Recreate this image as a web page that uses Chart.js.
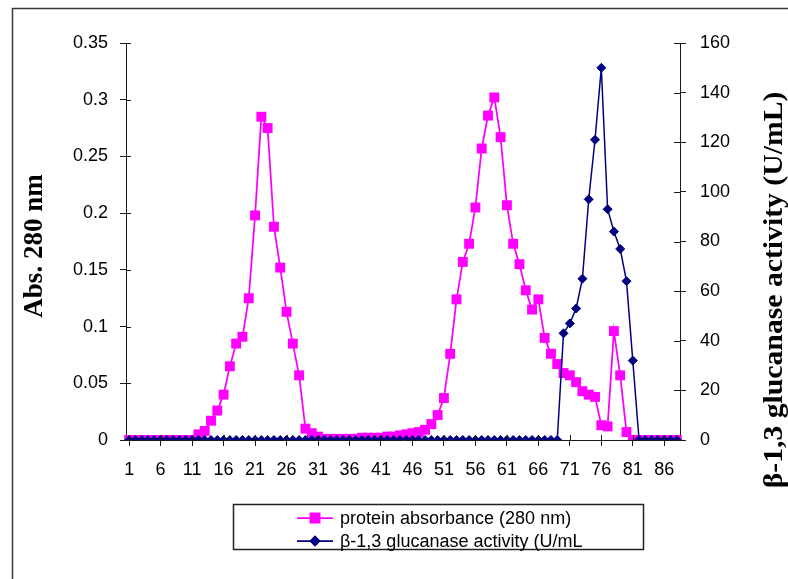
<!DOCTYPE html>
<html>
<head>
<meta charset="utf-8">
<title>Elution profile: protein and β-1,3 glucanase activity</title>
<script src="https://cdn.jsdelivr.net/npm/chart.js@4/dist/chart.umd.min.js"></script>
<style>
  html, body { margin: 0; padding: 0; background: #fff; }
  #wrap { position: relative; width: 788px; height: 579px; }
  canvas { display: block; }
</style>
</head>
<body>
<div id="wrap"><canvas id="c" width="788" height="579"></canvas></div>
<script>
// Fraction numbers 1..88 along the x axis
const fractions = Array.from({ length: 88 }, (_, i) => String(i + 1));

// Absorbance at 280 nm per fraction
const proteinAbs = [
  0, 0, 0, 0, 0, 0, 0, 0, 0, 0,                                  // 1-10
  0, 0.005, 0.008, 0.017, 0.026, 0.040, 0.065, 0.085, 0.091, 0.125, // 11-20
  0.198, 0.285, 0.275, 0.188, 0.152, 0.113, 0.085, 0.057, 0.010, 0.006, // 21-30
  0.003, 0.001, 0.001, 0.001, 0.001, 0.001, 0.001, 0.002, 0.002, 0.002, // 31-40
  0.002, 0.003, 0.003, 0.004, 0.005, 0.006, 0.007, 0.009, 0.014, 0.022, // 41-50
  0.037, 0.076, 0.124, 0.157, 0.173, 0.205, 0.257, 0.286, 0.302, 0.267, // 51-60
  0.207, 0.173, 0.155, 0.132, 0.115, 0.124, 0.090, 0.076, 0.067, 0.059, // 61-70
  0.057, 0.051, 0.043, 0.040, 0.038, 0.013, 0.012, 0.096, 0.057, 0.007, // 71-80
  0, 0, 0, 0, 0, 0, 0, 0                                          // 81-88
];

// β-1,3 glucanase activity (U/mL) per fraction
const glucanaseActivity = [
  0, 0, 0, 0, 0, 0, 0, 0, 0, 0,
  0, 0, 0, 0, 0, 0, 0, 0, 0, 0,
  0, 0, 0, 0, 0, 0, 0, 0, 0, 0,
  0, 0, 0, 0, 0, 0, 0, 0, 0, 0,
  0, 0, 0, 0, 0, 0, 0, 0, 0, 0,
  0, 0, 0, 0, 0, 0, 0, 0, 0, 0,
  0, 0, 0, 0, 0, 0, 0, 0, 0, 43,   // 61-70
  47, 53, 65, 97, 121, 150, 93, 84, 77, 64, // 71-80
  32, 0, 0, 0, 0, 0, 0, 0          // 81-88
];

// Axis ranges and tick steps
const absAxis = { min: 0, max: 0.35, step: 0.05 };
const activityAxis = { min: 0, max: 160, step: 20 };
const fractionLabelEvery = 5;

const seriesNames = ['protein absorbance (280 nm)', 'β-1,3 glucanase activity (U/mL'];
const axisTitles = { left: 'Abs. 280 nm', right: 'β-1,3 glucanase activity (U/mL)' };

const PINK = '#FF00FF';
const NAVY = '#000080';
const INK = '#1a1a1a';
const SANS = '"Liberation Sans", Arial, sans-serif';
const SERIF = '"Liberation Serif", "Times New Roman", serif';
const tickFont = { family: SANS, size: 18 };

// Excel-style "cross" tick marks: inner halves drawn into the plot area
const crossTicks = {
  id: 'crossTicks',
  afterDatasetsDraw(chart) {
    const { ctx, chartArea, scales } = chart;
    ctx.save();
    ctx.strokeStyle = INK;
    ctx.lineWidth = 1;
    ctx.beginPath();
    scales.y.ticks.forEach(t => {
      const y = Math.round(scales.y.getPixelForValue(t.value)) + 0.5;
      ctx.moveTo(chartArea.left, y); ctx.lineTo(chartArea.left + 5, y);
    });
    scales.y1.ticks.forEach(t => {
      const y = Math.round(scales.y1.getPixelForValue(t.value)) + 0.5;
      ctx.moveTo(chartArea.right, y); ctx.lineTo(chartArea.right - 6, y);
    });
    fractions.forEach((f, i) => {
      if (i % fractionLabelEvery !== 0) return;
      const x = Math.round(scales.x.getPixelForValue(i)) + 0.5;
      ctx.moveTo(x, chartArea.bottom); ctx.lineTo(x, chartArea.bottom - 5);
    });
    ctx.stroke();
    ctx.restore();
  }
};

// Frame, rotated axis titles and the boxed legend
const decorations = {
  id: 'decorations',
  beforeDraw(chart) {
    const { ctx, width, height } = chart;
    ctx.save();
    ctx.fillStyle = '#fff';
    ctx.fillRect(0, 0, width, height);
    ctx.restore();
  },
  afterDraw(chart) {
    const { ctx, chartArea } = chart;
    ctx.save();

    // outer chart frame
    ctx.strokeStyle = '#3a3a3a';
    ctx.lineWidth = 1.5;
    ctx.strokeRect(12.5, 8.5, 900, 700);

    // axis titles, both reading bottom-to-top
    ctx.fillStyle = '#000';
    ctx.textAlign = 'center';
    ctx.textBaseline = 'middle';
    const titles = [
      { x: 35, y: 246, size: 27, stretch: 1, txt: axisTitles.left },
      { x: 775, y: 290, size: 27, stretch: 1.1, txt: axisTitles.right }
    ];
    titles.forEach(t => {
      ctx.save();
      ctx.font = 'bold ' + t.size + 'px ' + SERIF;
      ctx.translate(t.x, t.y);
      ctx.rotate(-Math.PI / 2);
      ctx.scale(t.stretch, 1);
      ctx.fillText(t.txt, 0, 0);
      ctx.restore();
    });

    // legend
    const box = { x: 233.5, y: 504.5, w: 410, h: 45 };
    ctx.strokeStyle = '#222';
    ctx.lineWidth = 1.5;
    ctx.strokeRect(box.x, box.y, box.w, box.h);
    const rows = [
      { y: 518, color: PINK, style: 'rect', r: 6.5, label: seriesNames[0] },
      { y: 541, color: NAVY, style: 'rectRot', r: 4.5, label: seriesNames[1] }
    ];
    ctx.font = '18px ' + SANS;
    ctx.textAlign = 'left';
    rows.forEach(row => {
      ctx.strokeStyle = row.color;
      ctx.lineWidth = 1.75;
      ctx.beginPath();
      ctx.moveTo(297, row.y); ctx.lineTo(333, row.y);
      ctx.stroke();
      ctx.fillStyle = row.color;
      Chart.helpers.drawPoint(ctx, { pointStyle: row.style, radius: row.r, borderWidth: 1, rotation: 0 }, 315, row.y);
      ctx.fill();
      ctx.fillStyle = '#000';
      ctx.fillText(row.label, 340, row.y + 1);
    });
    ctx.restore();
  }
};

const ctx = document.getElementById('c').getContext('2d');
new Chart(ctx, {
  type: 'line',
  data: {
    labels: fractions,
    datasets: [
      {
        label: seriesNames[1],
        data: glucanaseActivity,
        yAxisID: 'y1',
        order: 0,
        borderColor: NAVY,
        backgroundColor: NAVY,
        borderWidth: 1.5,
        pointStyle: 'rectRot',
        pointRadius: 4.5,
        pointBorderWidth: 1,
        pointBorderColor: NAVY,
        pointBackgroundColor: NAVY,
        tension: 0
      },
      {
        label: seriesNames[0],
        data: proteinAbs,
        yAxisID: 'y',
        order: 1,
        borderColor: PINK,
        backgroundColor: PINK,
        borderWidth: 1.75,
        pointStyle: 'rect',
        pointRadius: 7,
        pointBorderWidth: 0,
        pointBorderColor: PINK,
        pointBackgroundColor: PINK,
        tension: 0
      }
    ]
  },
  options: {
    responsive: false,
    animation: false,
    devicePixelRatio: 1,
    layout: { padding: { top: 43, left: 0, right: 0, bottom: 0 } },
    plugins: {
      legend: { display: false },
      tooltip: { enabled: false },
      title: { display: false }
    },
    elements: { line: { clip: false } },
    scales: {
      x: {
        type: 'category',
        offset: true,
        grid: {
          offset: false,
          drawOnChartArea: false,
          drawTicks: true,
          tickLength: 6,
          color: ctx => (ctx.index % fractionLabelEvery === 0 ? INK : 'rgba(0,0,0,0)')
        },
        border: { color: INK, width: 1 },
        ticks: {
          autoSkip: false,
          maxRotation: 0,
          minRotation: 0,
          padding: 13,
          color: '#000',
          font: tickFont,
          callback: (v, i) => (i % fractionLabelEvery === 0 ? fractions[i] : '')
        },
        afterFit: s => { s.height = 139; }
      },
      y: {
        type: 'linear',
        position: 'left',
        min: absAxis.min,
        max: absAxis.max,
        grid: { drawOnChartArea: false, drawTicks: true, tickLength: 6, color: INK },
        border: { color: INK, width: 1 },
        ticks: {
          stepSize: absAxis.step,
          padding: 12,
          color: '#000',
          font: tickFont,
          callback: v => String(Number(v.toFixed(2)))
        },
        afterFit: s => { s.width = 126; }
      },
      y1: {
        type: 'linear',
        position: 'right',
        min: activityAxis.min,
        max: activityAxis.max,
        grid: { drawOnChartArea: false, drawTicks: true, tickLength: 6, color: INK },
        border: { color: INK, width: 1 },
        ticks: {
          stepSize: activityAxis.step,
          padding: 14,
          color: '#000',
          font: tickFont
        },
        afterFit: s => { s.width = 108; }
      }
    }
  },
  plugins: [crossTicks, decorations]
});
</script>
</body>
</html>
